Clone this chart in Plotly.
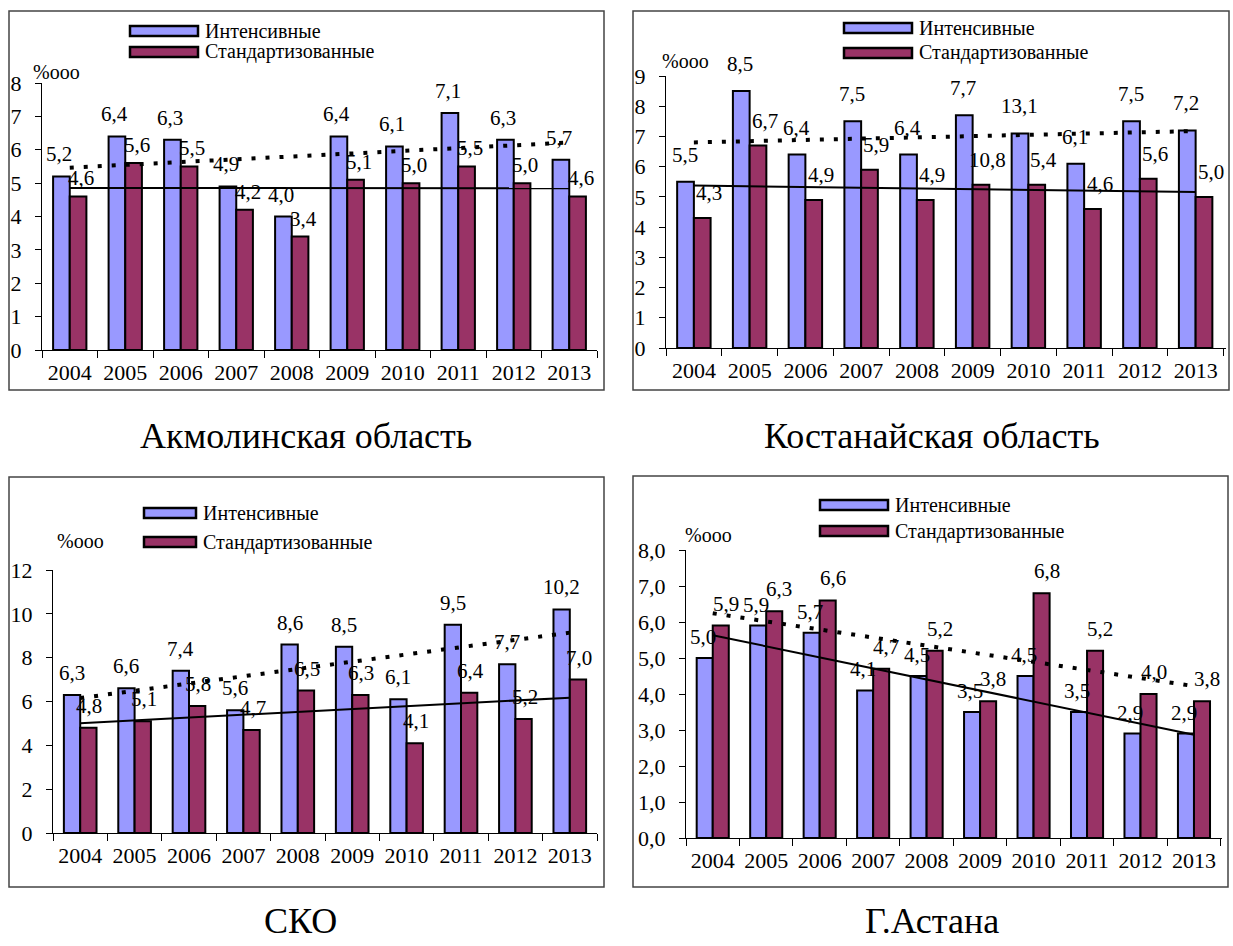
import numpy as np
import plotly.graph_objects as go

W, H = 1233, 946

years = ["2004", "2005", "2006", "2007", "2008", "2009", "2010", "2011", "2012", "2013"]

akm_int = [5.2, 6.4, 6.3, 4.9, 4.0, 6.4, 6.1, 7.1, 6.3, 5.7]
akm_std = [4.6, 5.6, 5.5, 4.2, 3.4, 5.1, 5.0, 5.5, 5.0, 4.6]

kost_int = [5.5, 8.5, 6.4, 7.5, 6.4, 7.7, 7.1, 6.1, 7.5, 7.2]
kost_std = [4.3, 6.7, 4.9, 5.9, 4.9, 5.4, 5.4, 4.6, 5.6, 5.0]
kost_int_labels = ["5,5", "8,5", "6,4", "7,5", "6,4", "7,7", "13,1", "6,1", "7,5", "7,2"]
kost_std_labels = ["4,3", "6,7", "4,9", "5,9", "4,9", "10,8", "5,4", "4,6", "5,6", "5,0"]

sko_int = [6.3, 6.6, 7.4, 5.6, 8.6, 8.5, 6.1, 9.5, 7.7, 10.2]
sko_std = [4.8, 5.1, 5.8, 4.7, 6.5, 6.3, 4.1, 6.4, 5.2, 7.0]

ast_int = [5.0, 5.9, 5.7, 4.1, 4.5, 3.5, 4.5, 3.5, 2.9, 2.9]
ast_std = [5.9, 6.3, 6.6, 4.7, 5.2, 3.8, 6.8, 5.2, 4.0, 3.8]

series_names = ["Интенсивные", "Стандартизованные"]
titles = ["Акмолинская область", "Костанайская область", "СКО", "Г.Астана"]
unit_label = "%ooo"

C_INT = "#9999FF"
C_STD = "#993366"
FONT = "Liberation Serif"


def fmt(v):
    return f"{v:.1f}".replace(".", ",")


panels = [
    dict(intv=akm_int, stdv=akm_std, ilab=None, slab=None, ymax=8, dtick=1, tfmt="d",
         ax=(42, 597), ay=(350, 83), box=(9, 11, 604, 390),
         leg=(130, 198, 31, 52), unit=(56, 72), title=(306, 436),
         dotted="int", idy=22, sdy=18, idx=-2, sdx=3),
    dict(intv=kost_int, stdv=kost_std, ilab=kost_int_labels, slab=kost_std_labels, ymax=9, dtick=1, tfmt="d",
         ax=(666, 1226), ay=(348, 76), box=(633, 11, 1229, 390),
         leg=(844, 912, 28, 53), unit=(686, 61), title=(932, 436),
         dotted="int", idy=27, sdy=25, idx=-1, sdx=7),
    dict(intv=sko_int, stdv=sko_std, ilab=None, slab=None, ymax=12, dtick=2, tfmt="d",
         ax=(53, 597), ay=(833, 570), box=(9, 477, 604, 887),
         leg=(144, 196, 513, 542), unit=(80, 541), title=(300, 921),
         dotted="int", idy=22, sdy=22, idx=0, sdx=1),
    dict(intv=ast_int, stdv=ast_std, ilab=None, slab=None, ymax=8, dtick=1, tfmt=".1f",
         ax=(686, 1222), ay=(838, 550), box=(633, 476, 1228, 887),
         leg=(820, 888, 505, 531), unit=(708, 535), title=(932, 921),
         dotted="std", idy=21, sdy=22, idx=-2, sdx=5),
]

fig = go.Figure()
shapes = []
annotations = []

n = len(years)
xi = np.arange(n)

for k, p in enumerate(panels):
    sfx = "" if k == 0 else str(k + 1)
    xa, ya = "x" + sfx, "y" + sfx
    xaxis_key, yaxis_key = "xaxis" + sfx, "yaxis" + sfx

    fig.add_trace(go.Bar(x=years, y=p["intv"], name=series_names[0], marker=dict(color=C_INT, line=dict(color="black", width=2)),
                         xaxis=xa, yaxis=ya, offsetgroup="a", showlegend=False))
    fig.add_trace(go.Bar(x=years, y=p["stdv"], name=series_names[1], marker=dict(color=C_STD, line=dict(color="black", width=2)),
                         xaxis=xa, yaxis=ya, offsetgroup="b", showlegend=False))

    # linear trend lines (least squares, as in the source spreadsheet)
    ci = np.polyfit(xi, p["intv"], 1)
    cs = np.polyfit(xi, p["stdv"], 1)
    ti = [np.polyval(ci, 0), np.polyval(ci, n - 1)]
    ts = [np.polyval(cs, 0), np.polyval(cs, n - 1)]
    ends = [years[0], years[-1]]
    dot_style = dict(color="black", width=4, dash="4px,10px")
    solid_style = dict(color="black", width=2)
    if p["dotted"] == "int":
        tr_dot, tr_solid = ti, ts
    else:
        tr_dot, tr_solid = ts, ti
    fig.add_trace(go.Scatter(x=ends, y=tr_solid, mode="lines", line=solid_style, xaxis=xa, yaxis=ya, showlegend=False, hoverinfo="skip"))
    fig.add_trace(go.Scatter(x=ends, y=tr_dot, mode="lines", line=dot_style, xaxis=xa, yaxis=ya, showlegend=False, hoverinfo="skip"))

    x0, x1 = p["ax"]
    yb, yt = p["ay"]
    fig.update_layout(**{
        xaxis_key: dict(domain=[x0 / W, x1 / W], anchor=ya, type="category", tickson="boundaries",
                        ticks="outside", ticklen=7, tickcolor="black", showline=True, linecolor="black", linewidth=1,
                        showgrid=False, zeroline=False, automargin=False, ticklabelstandoff=3,
                        tickfont=dict(family=FONT, size=22, color="black"), fixedrange=True),
        yaxis_key: dict(domain=[1 - yb / H, 1 - yt / H], anchor=xa, range=[0, p["ymax"]], dtick=p["dtick"], tick0=0,
                        tickformat=p["tfmt"], ticks="outside", ticklen=6, tickcolor="black", showline=True,
                        linecolor="black", linewidth=1, showgrid=False, zeroline=False, automargin=False,
                        ticklabelstandoff=9,
                        tickfont=dict(family=FONT, size=22, color="black"), fixedrange=True),
    })

    ilab = p["ilab"] or [fmt(v) for v in p["intv"]]
    slab = p["slab"] or [fmt(v) for v in p["stdv"]]
    for i in range(n):
        annotations.append(dict(x=i - 0.15, y=p["intv"][i], xref=xa, yref=ya, text=ilab[i], showarrow=False,
                                yshift=p["idy"], xshift=p["idx"], yanchor="middle", xanchor="center",
                                font=dict(family=FONT, size=21, color="black")))
        annotations.append(dict(x=i + 0.15, y=p["stdv"][i], xref=xa, yref=ya, text=slab[i], showarrow=False,
                                yshift=p["sdy"], xshift=p["sdx"], yanchor="middle", xanchor="center",
                                font=dict(family=FONT, size=21, color="black")))

    # frame
    bx0, by0, bx1, by1 = p["box"]
    shapes.append(dict(type="rect", xref="paper", yref="paper", x0=bx0 / W, x1=bx1 / W, y0=1 - by1 / H, y1=1 - by0 / H,
                       line=dict(color="#444444", width=1.5), fillcolor="rgba(0,0,0,0)", layer="below"))

    # legend
    lx0, lx1, ly_i, ly_s = p["leg"]
    for yy, col, name in [(ly_i, C_INT, series_names[0]), (ly_s, C_STD, series_names[1])]:
        shapes.append(dict(type="rect", xref="paper", yref="paper", x0=lx0 / W, x1=lx1 / W,
                           y0=1 - (yy + 5) / H, y1=1 - (yy - 5) / H, line=dict(color="black", width=2.5), fillcolor=col))
        annotations.append(dict(x=(lx1 + 5) / W, y=1 - yy / H, xref="paper", yref="paper", text=name, showarrow=False,
                                xanchor="left", yanchor="middle", font=dict(family=FONT, size=20, color="black")))

    ux, uy = p["unit"]
    annotations.append(dict(x=ux / W, y=1 - uy / H, xref="paper", yref="paper", text=unit_label, showarrow=False,
                            xanchor="center", yanchor="middle", font=dict(family=FONT, size=20, color="black")))

    tx, ty = p["title"]
    annotations.append(dict(x=tx / W, y=1 - ty / H, xref="paper", yref="paper", text=titles[k], showarrow=False,
                            xanchor="center", yanchor="middle", font=dict(family=FONT, size=36, color="black")))

fig.update_layout(width=W, height=H, margin=dict(l=0, r=0, t=0, b=0, pad=0, autoexpand=False),
                  paper_bgcolor="white", plot_bgcolor="white",
                  barmode="group", bargap=0.4, bargroupgap=0, separators=", ", shapes=shapes, annotations=annotations,
                  showlegend=False)

fig.write_html("out.html", config={"displayModeBar": False},
               post_script="document.body.style.margin='0';document.body.style.overflow='hidden';")
